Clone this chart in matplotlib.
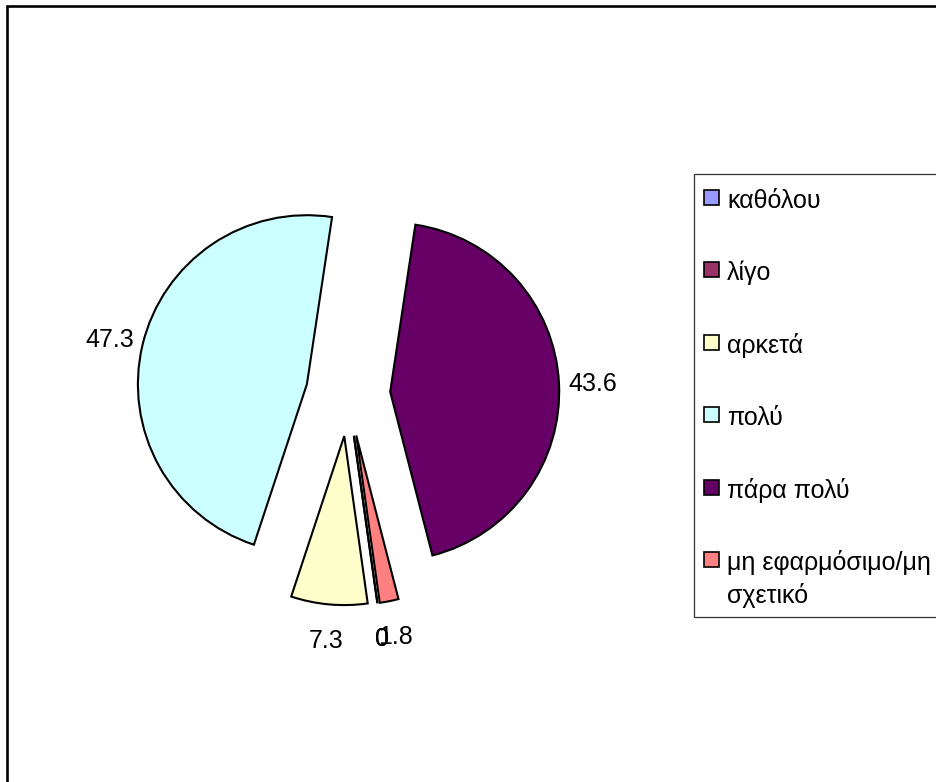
import matplotlib
matplotlib.use("Agg")
import matplotlib.pyplot as plt
from matplotlib.patches import Rectangle

plt.rcParams["font.family"] = ["Liberation Sans", "DejaVu Sans"]

categories = ["καθόλου", "λίγο", "αρκετά", "πολύ", "πάρα πολύ", "μη εφαρμόσιμο/μη\nσχετικό"]
values = [0, 0, 7.3, 47.3, 43.6, 1.8]
colors = ["#9999FF", "#993366", "#FFFFCC", "#CCFFFF", "#660066", "#FF8080"]

W, H = 936, 782
fig = plt.figure(figsize=(W / 100, H / 100), dpi=100)


def fx(x):
    return x / W


def fy(y):
    return 1 - y / H


# pie drawn in units of its radius, centred at (0, 0)
cx, cy, r = 348, 394, 169
ax = fig.add_axes([0, 0, 1, 1])
wedges, texts = ax.pie(
    values,
    labels=[f"{v:g}" for v in values],
    colors=colors,
    explode=[0.25] * len(values),
    startangle=90 - 172,
    counterclock=False,
    labeldistance=1.2,
    wedgeprops=dict(edgecolor="black", linewidth=1.5),
    textprops=dict(fontsize=18, color="black"),
)
for t in texts:
    t.set_horizontalalignment("center")
    t.set_verticalalignment("center_baseline")
ax.set_xlim(-cx / r, (W - cx) / r)
ax.set_ylim((cy - H) / r, cy / r)
ax.set_aspect("auto")
ax.set_axis_off()

# chart area border (top and left edges visible)
fig.add_artist(Rectangle((fx(7.5), fy(H + 20)), fx(W + 40), (H + 14) / H,
                         transform=fig.transFigure, fill=False,
                         edgecolor="black", linewidth=1.9))

# legend box
fig.add_artist(Rectangle((fx(694), fy(617)), fx(W + 20 - 694), (617 - 174) / H,
                         transform=fig.transFigure, facecolor="white",
                         edgecolor="#333333", linewidth=0.9))
for i, (lab, col) in enumerate(zip(categories, colors)):
    base = 208 + i * 72.4
    fig.add_artist(Rectangle((fx(704), fy(base - 3)), 15 / W, 15 / H,
                             transform=fig.transFigure, facecolor=col,
                             edgecolor="black", linewidth=1.2))
    for j, line in enumerate(lab.split("\n")):
        fig.text(fx(727), fy(base + j * 33), line, fontsize=18,
                 ha="left", va="baseline")

fig.savefig("out.png", dpi=100)
